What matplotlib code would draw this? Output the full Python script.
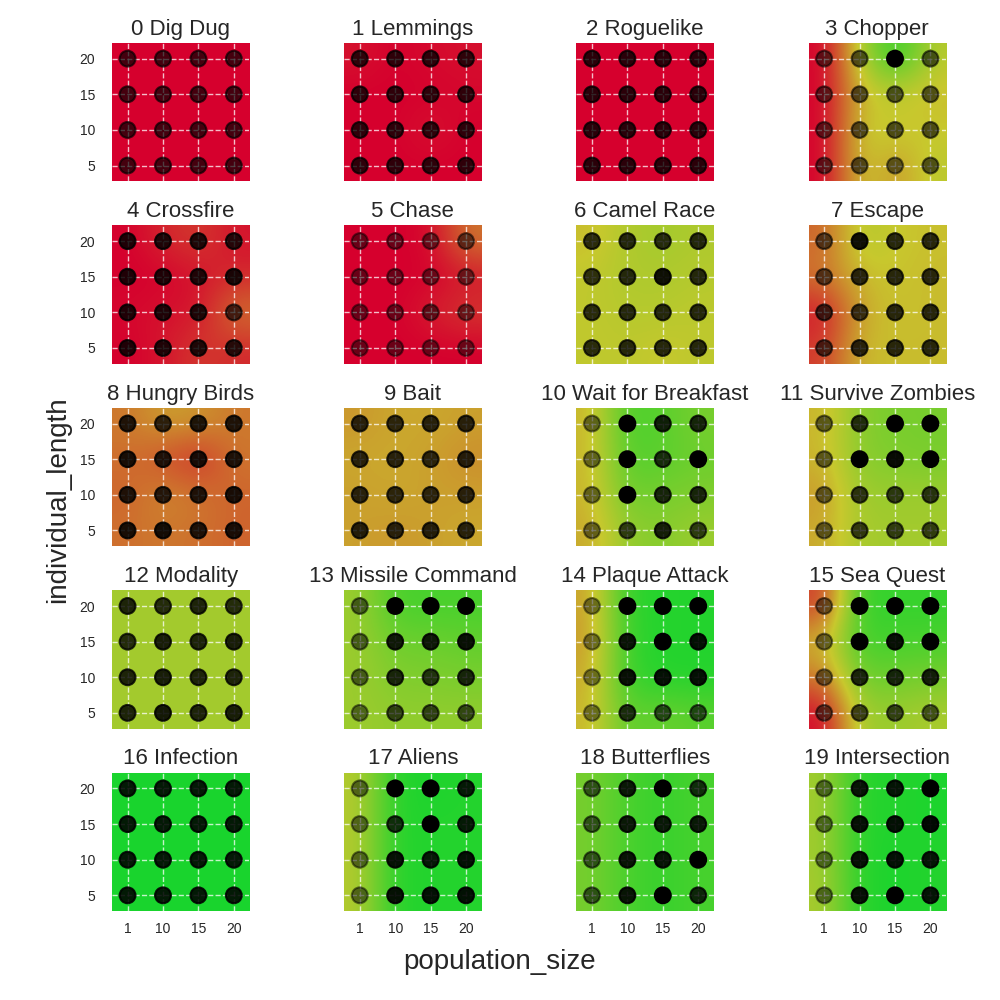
import numpy as np
import matplotlib
matplotlib.use("Agg")
import matplotlib.pyplot as plt
import seaborn as sns
from matplotlib.colors import LinearSegmentedColormap

sns.set_style("white")
plt.rcParams['font.family'] = ['Liberation Sans', 'DejaVu Sans']

games = ["Dig Dug", "Lemmings", "Roguelike", "Chopper", "Crossfire", "Chase",
         "Camel Race", "Escape", "Hungry Birds", "Bait", "Wait for Breakfast",
         "Survive Zombies", "Modality", "Missile Command", "Plaque Attack",
         "Sea Quest", "Infection", "Aliens", "Butterflies", "Intersection"]

population_size = [1, 10, 15, 20]
individual_length = [20, 15, 10, 5]  # rows top -> bottom

# win rate per game, rows = individual_length 20,15,10,5 ; cols = population_size
win_rate = [
    [[0, 0, 0, 0], [0, 0, 0, 0], [0, 0, 0, 0], [0, 0, 0, 0]],
    [[0.05, 0, 0.03, 0.04], [0, 0, 0, 0.02], [0, 0, 0.06, 0], [0, 0, 0, 0]],
    [[0, 0, 0, 0], [0, 0, 0, 0], [0, 0, 0, 0], [0, 0, 0, 0]],
    [[0, 0.57, 0.95, 0.55], [0, 0.47, 0.5, 0.47], [0, 0.52, 0.52, 0.5], [0, 0.52, 0.37, 0.54]],
    [[0, 0.1, 0.15, 0.05], [0, 0, 0.05, 0.1], [0.02, 0.05, 0.05, 0.3], [0, 0.05, 0.15, 0.1]],
    [[0, 0, 0.02, 0.3], [0, 0, 0, 0.05], [0, 0, 0.08, 0.15], [0, 0, 0, 0]],
    [[0.47, 0.57, 0.6, 0.57], [0.52, 0.57, 0.57, 0.55], [0.52, 0.55, 0.55, 0.53], [0.52, 0.53, 0.5, 0.53]],
    [[0.25, 0.57, 0.5, 0.48], [0.3, 0.47, 0.49, 0.47], [0.05, 0.42, 0.49, 0.47], [0.15, 0.47, 0.47, 0.47]],
    [[0.3, 0.4, 0.38, 0.3], [0.28, 0.2, 0.1, 0.3], [0.25, 0.35, 0.3, 0.25], [0.28, 0.3, 0.28, 0.25]],
    [[0.38, 0.42, 0.42, 0.4], [0.42, 0.42, 0.4, 0.35], [0.4, 0.42, 0.4, 0.4], [0.4, 0.38, 0.4, 0.42]],
    [[0.45, 0.85, 0.8, 0.72], [0.45, 0.82, 0.8, 0.75], [0.45, 0.75, 0.72, 0.7], [0.42, 0.65, 0.68, 0.62]],
    [[0.45, 0.68, 0.72, 0.72], [0.45, 0.68, 0.7, 0.72], [0.38, 0.62, 0.62, 0.62], [0.42, 0.6, 0.6, 0.6]],
    [[0.6, 0.6, 0.6, 0.6], [0.6, 0.6, 0.6, 0.6], [0.6, 0.6, 0.6, 0.6], [0.6, 0.6, 0.6, 0.6]],
    [[0.62, 0.85, 0.85, 0.85], [0.62, 0.75, 0.75, 0.78], [0.62, 0.7, 0.7, 0.72], [0.62, 0.65, 0.65, 0.65]],
    [[0.4, 0.92, 0.95, 0.95], [0.38, 0.9, 0.95, 0.95], [0.42, 0.9, 0.95, 0.95], [0.45, 0.8, 0.75, 0.8]],
    [[0.15, 0.9, 0.9, 0.9], [0.45, 0.88, 0.85, 0.85], [0.3, 0.75, 0.75, 0.72], [0.02, 0.62, 0.62, 0.58]],
    [[0.98, 0.98, 0.98, 0.98], [0.98, 0.98, 0.98, 0.98], [0.98, 0.98, 0.98, 0.98], [0.98, 0.98, 0.98, 0.98]],
    [[0.55, 0.95, 0.97, 0.95], [0.55, 0.95, 0.95, 0.95], [0.55, 0.95, 0.95, 0.95], [0.55, 0.95, 0.95, 0.95]],
    [[0.72, 0.85, 0.9, 0.85], [0.72, 0.85, 0.9, 0.85], [0.72, 0.85, 0.9, 0.85], [0.72, 0.85, 0.9, 0.85]],
    [[0.6, 0.95, 0.95, 0.97], [0.6, 0.95, 0.95, 0.97], [0.6, 0.95, 0.97, 0.95], [0.58, 0.95, 0.97, 0.95]],
]

# normalised score per game (same layout), shown as point darkness
score = [
    [[0.68] * 4] * 4,
    [[0.78] * 4] * 4,
    [[0.8] * 4] * 4,
    [[0.55, 0.6, 1.0, 0.6], [0.55, 0.6, 0.6, 0.6], [0.55, 0.6, 0.62, 0.62], [0.55, 0.6, 0.55, 0.6]],
    [[0.85, 0.85, 0.85, 0.82], [0.85, 0.85, 0.85, 0.88], [0.85, 0.85, 0.85, 0.68], [0.85, 0.85, 0.85, 0.82]],
    [[0.5, 0.5, 0.5, 0.55], [0.5, 0.5, 0.5, 0.5], [0.5, 0.5, 0.55, 0.5], [0.5, 0.5, 0.5, 0.5]],
    [[0.78, 0.8, 0.78, 0.8], [0.76, 0.8, 0.92, 0.8], [0.78, 0.8, 0.8, 0.8], [0.78, 0.8, 0.8, 0.8]],
    [[0.6, 0.92, 0.8, 0.8], [0.6, 0.8, 0.8, 0.8], [0.7, 0.72, 0.8, 0.8], [0.65, 0.8, 0.8, 0.8]],
    [[0.85, 0.78, 0.85, 0.85], [0.88, 0.85, 0.88, 0.85], [0.85, 0.82, 0.85, 0.88], [0.88, 0.9, 0.85, 0.88]],
    [[0.8, 0.78, 0.8, 0.8], [0.8, 0.8, 0.78, 0.82], [0.8, 0.78, 0.78, 0.8], [0.82, 0.8, 0.82, 0.8]],
    [[0.5, 1.0, 0.85, 0.82], [0.5, 1.0, 0.78, 1.0], [0.5, 1.0, 0.82, 0.82], [0.5, 0.7, 0.85, 0.7]],
    [[0.55, 0.78, 1.0, 1.0], [0.55, 1.0, 0.95, 1.0], [0.55, 0.75, 0.72, 0.75], [0.55, 0.72, 0.7, 0.7]],
    [[0.82, 0.78, 0.82, 0.78], [0.78, 0.85, 0.82, 0.85], [0.82, 0.85, 0.82, 0.82], [0.82, 0.88, 0.82, 0.85]],
    [[0.55, 1.0, 1.0, 1.0], [0.55, 0.88, 0.88, 0.92], [0.55, 0.82, 0.75, 0.82], [0.5, 0.68, 0.68, 0.65]],
    [[0.45, 1.0, 1.0, 1.0], [0.45, 0.9, 1.0, 0.92], [0.45, 0.92, 0.92, 0.92], [0.45, 0.78, 0.65, 0.65]],
    [[0.5, 1.0, 1.0, 1.0], [0.5, 1.0, 0.92, 1.0], [0.5, 0.82, 0.82, 0.85], [0.55, 0.68, 0.68, 0.6]],
    [[0.88] * 4] * 4,
    [[0.5, 1.0, 1.0, 0.88], [0.5, 0.78, 1.0, 0.88], [0.5, 0.92, 0.88, 0.92], [0.5, 0.92, 0.92, 0.92]],
    [[0.6, 0.88, 1.0, 0.78], [0.6, 0.88, 0.88, 0.88], [0.6, 0.9, 0.9, 1.0], [0.6, 0.9, 1.0, 0.82]],
    [[0.5, 0.9, 0.9, 1.0], [0.5, 0.92, 0.92, 0.96], [0.5, 0.92, 0.92, 0.9], [0.5, 0.92, 1.0, 0.9]],
]

cmap = LinearSegmentedColormap.from_list("winrate", ["#d6002d", "#c8c82d", "#12d52d"])

fig, axes = plt.subplots(5, 4, figsize=(10, 10), dpi=100, sharex=True, sharey=True)
fig.subplots_adjust(left=0.112, right=0.946, top=0.957, bottom=0.089, wspace=0.69, hspace=0.32)

xs, ys = np.meshgrid(np.arange(4), np.arange(4)[::-1])

for i, ax in enumerate(axes.flat):
    wr = np.array(win_rate[i], dtype=float)
    sc = np.array(score[i], dtype=float)
    ax.imshow(wr, cmap=cmap, vmin=0, vmax=1, interpolation="bicubic",
              origin="upper", extent=(-0.5, 3.5, -0.5, 3.5), aspect="auto", zorder=0)
    colors = np.zeros((16, 4))
    colors[:, 3] = sc.ravel()
    ax.scatter(xs.ravel(), ys.ravel(), s=130, c=colors, edgecolors=colors, linewidths=1.5, zorder=2)
    ax.set_axisbelow(True)
    ax.grid(True, color="white", linestyle="--", linewidth=1, alpha=0.75)
    for sp in ax.spines.values():
        sp.set_visible(False)
    ax.set_xlim(-0.44, 3.44)
    ax.set_ylim(-0.44, 3.44)
    ax.set_xticks(range(4))
    ax.set_xticklabels(population_size, fontsize=10)
    ax.set_yticks(range(4))
    ax.set_yticklabels(individual_length[::-1], fontsize=10)
    ax.tick_params(axis="x", length=0, pad=8)
    ax.tick_params(axis="y", length=0, pad=12)
    ax.set_title(f"{i} {games[i]}", fontsize=16, color="#262626")

fig.supxlabel("population_size", fontsize=20, y=0.025, x=0.5, color="#262626")
fig.supylabel("individual_length", fontsize=20, x=0.045, color="#262626")

fig.savefig("out.png", dpi=100)
